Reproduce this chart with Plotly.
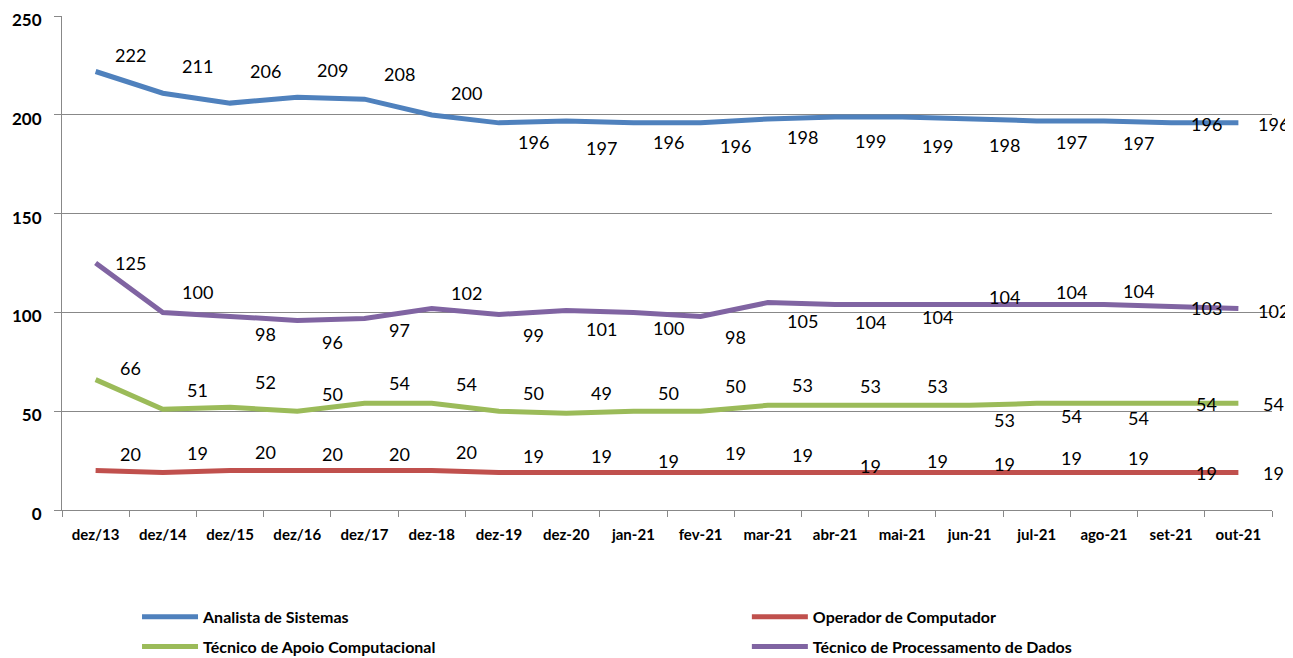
import plotly.graph_objects as go

categories = ["dez/13", "dez/14", "dez/15", "dez/16", "dez/17", "dez-18", "dez-19", "dez-20",
              "jan-21", "fev-21", "mar-21", "abr-21", "mai-21", "jun-21", "jul-21", "ago-21",
              "set-21", "out-21"]

analista = [222, 211, 206, 209, 208, 200, 196, 197, 196, 196, 198, 199, 199, 198, 197, 197, 196, 196]
operador = [20, 19, 20, 20, 20, 20, 19, 19, 19, 19, 19, 19, 19, 19, 19, 19, 19, 19]
apoio = [66, 51, 52, 50, 54, 54, 50, 49, 50, 50, 53, 53, 53, 53, 54, 54, 54, 54]
processamento = [125, 100, 98, 96, 97, 102, 99, 101, 100, 98, 105, 104, 104, 104, 104, 104, 103, 102]
y_ticks = [0, 50, 100, 150, 200, 250]

names = ["Analista de Sistemas", "Operador de Computador",
         "Técnico de Apoio Computacional", "Técnico de Processamento de Dados"]
colors = ["#4F81BD", "#C0504D", "#9BBB59", "#8064A2"]
legend_ids = ["legend", "legend2", "legend", "legend2"]

# label offsets in screen pixels (down positive) - styling only
off_analista = [-17, -27, -32, -27, -25, -22, 19, 27, 19, 23, 18, 24, 29, 26, 21, 22, 1, 1]
off_operador = [-17, -19, -19, -17, -17, -19, -16, -16, -11, -19, -17, -6, -11, -8, -14, -14, 1, 1]
off_apoio = [-12, -19, -25, -17, -20, -19, -18, -20, -18, -25, -20, -19, -19, 15, 13, 15, 1, 1]
off_proc = [0, -20, 18, 22, 12, -16, 21, 18, 16, 21, 18, 17, 12, -8, -13, -14, 1, 2]

series = [analista, operador, apoio, processamento]
offsets = [off_analista, off_operador, off_apoio, off_proc]

fig = go.Figure()
for name, vals, col, lg in zip(names, series, colors, legend_ids):
    fig.add_trace(go.Scatter(x=categories, y=vals, mode="lines", name=name,
                             legend=lg, legendgroup=name,
                             line=dict(color=col, width=5), hoverinfo="skip"))

for vals, offs in zip(series, offsets):
    for c, v, o in zip(categories, vals, offs):
        fig.add_annotation(x=c, y=v, text=str(v), showarrow=False,
                           xshift=35, yshift=-o,
                           font=dict(family="Lato", size=18, color="#000000"))

legend_style = dict(orientation="v", yanchor="top", xanchor="left",
                    font=dict(family="Lato", size=16, color="#000000", weight="bold"),
                    itemwidth=56, tracegroupgap=6, bgcolor="rgba(0,0,0,0)")

fig.update_layout(
    width=1293, height=658,
    margin=dict(l=54, r=29, t=8, b=156, autoexpand=False),
    plot_bgcolor="white", paper_bgcolor="white",
    font=dict(family="Lato", color="#000000"),
    showlegend=True,
    legend=dict(x=0.062, y=-0.182, **legend_style),
    legend2=dict(x=0.566, y=-0.182, **legend_style),
)
fig.update_xaxes(type="category", showgrid=False, showline=True, linecolor="#888888", linewidth=1,
                 ticks="outside", tickson="boundaries", ticklen=6, tickcolor="#888888",
                 ticklabelstandoff=11,
                 tickfont=dict(family="Lato", size=15, weight="bold"), range=[-0.5, 17.5])
fig.update_yaxes(range=[0, 250.1], tickvals=y_ticks,
                 showgrid=True, gridcolor="#888888", gridwidth=1,
                 showline=True, linecolor="#888888", linewidth=1, ticks="outside", ticklen=7,
                 tickcolor="#888888", zeroline=False, ticklabeloverflow="allow",
                 ticklabelstandoff=9, ticklabelshift=4,
                 tickfont=dict(family="Lato", size=17, weight="bold"))

fig.write_html("out.html")
